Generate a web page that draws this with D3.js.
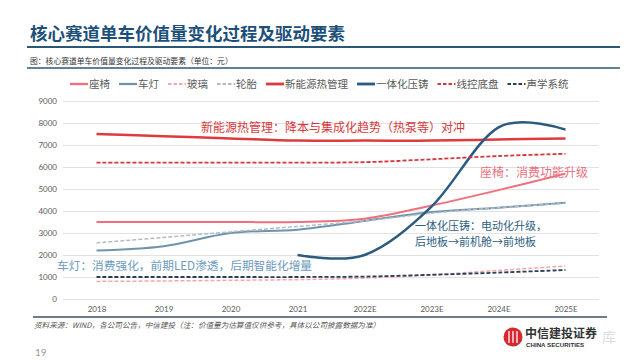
<!DOCTYPE html>
<html><head><meta charset="utf-8">
<script src="https://cdn.jsdelivr.net/npm/d3@7/dist/d3.min.js"></script>
<style>
html,body{margin:0;padding:0;background:#fff;}
svg{display:block;font-family:"Noto Sans CJK SC","Noto Sans",sans-serif;}
</style></head><body>
<svg id="c" width="640" height="360"></svg>
<script>
const categories = ["2018","2019","2020","2021","2022E","2023E","2024E","2025E"];
const yTicks = [0,1000,2000,3000,4000,5000,6000,7000,8000,9000];
const seriesNames = ["座椅","车灯","玻璃","轮胎","新能源热管理","一体化压铸","线控底盘","声学系统"];
const seat     = [3500,3500,3500,3500,3650,4250,4950,5700];
const lamp     = [2200,2400,3000,3150,3550,3950,4150,4380];
const glass    = [800,820,850,880,950,1100,1300,1500];
const tire     = [2550,2800,3050,3300,3550,3900,4150,4350];
const thermal  = [7500,7400,7300,7200,7200,7200,7250,7300];
const casting  = [null,null,null,2000,2000,4200,7800,7700];
const chassis  = [6200,6200,6200,6200,6220,6350,6500,6600];
const acoustic = [1000,1000,1000,1000,1020,1100,1200,1320];

const styles = [
  {data:seat,     color:"#ef6f7d", w:2,   dash:null},
  {data:lamp,     color:"#6f93ad", w:2,   dash:null},
  {data:glass,    color:"#f3a7ae", w:1.5, dash:"4,2"},
  {data:tire,     color:"#b3bcc5", w:1.5, dash:"4,2"},
  {data:thermal,  color:"#df3a3e", w:2.5, dash:null},
  {data:casting,  color:"#2b5b7e", w:2.5, dash:null},
  {data:chassis,  color:"#d8363e", w:1.8, dash:"4,2"},
  {data:acoustic, color:"#2c3d55", w:1.8, dash:"4,2"}
];

const svg = d3.select("#c");
const x = d3.scalePoint().domain(categories).range([63,599]).padding(0.5);
const y = d3.scaleLinear().domain([0,9000]).range([299,101]);

// Title
svg.append("text").attr("x",30).attr("y",40).attr("font-size",17.5).attr("font-weight",700)
  .attr("fill","#1d4f7b").text("核心赛道单车价值量变化过程及驱动要素");
svg.append("line").attr("x1",27).attr("x2",620).attr("y1",47).attr("y2",47)
  .attr("stroke","#2b5777").attr("stroke-width",2.2);
svg.append("text").attr("x",30).attr("y",64).attr("font-size",7.8).attr("fill","#333")
  .text("图：核心赛道单车价值量变化过程及驱动要素（单位：元）");
svg.append("line").attr("x1",27).attr("x2",620).attr("y1",68).attr("y2",68)
  .attr("stroke","#2b5777").attr("stroke-width",1.3);

// Gridlines
svg.append("g").selectAll("line").data(yTicks).join("line")
  .attr("x1",63).attr("x2",599).attr("y1",d=>y(d)+0.5).attr("y2",d=>y(d)+0.5)
  .attr("stroke","#e2e2e2").attr("stroke-width",1);

// Axes
const ya = svg.append("g").attr("transform","translate(57,0)")
  .call(d3.axisLeft(y).tickValues(yTicks).tickSize(0).tickPadding(0).tickFormat(d3.format("d")));
ya.select(".domain").remove();
ya.selectAll("text").attr("font-size",8).attr("fill","#595959").attr("font-family","Lato, 'Noto Sans', sans-serif");
const xa = svg.append("g").attr("transform","translate(0,306)")
  .call(d3.axisBottom(x).tickSize(0).tickPadding(0));
xa.select(".domain").remove();
xa.selectAll("text").attr("font-size",8).attr("fill","#595959").attr("dy","0.71em").attr("font-family","Lato, 'Noto Sans', sans-serif");

// Lines
styles.forEach(s=>{
  const pts = categories.map((c,i)=>[c,s.data[i]]).filter(p=>p[1]!==null);
  const gen = d3.line().x(p=>x(p[0])).y(p=>y(p[1])).curve(d3.curveCardinal.tension(0));
  svg.append("path").datum(pts).attr("d",gen).attr("fill","none")
    .attr("stroke",s.color).attr("stroke-width",s.w)
    .attr("stroke-dasharray",s.dash);
});

// Legend
let lx = 70;
const ly = 84;
seriesNames.forEach((n,i)=>{
  const s = styles[i];
  svg.append("line").attr("x1",lx).attr("x2",lx+18).attr("y1",ly).attr("y2",ly)
    .attr("stroke",s.color).attr("stroke-width",s.w+0.3).attr("stroke-dasharray",s.dash?"3.5,2":null);
  const t = svg.append("text").attr("x",lx+19).attr("y",ly+3.8).attr("font-size",10.5)
    .attr("fill","#595959").text(n);
  lx += 19 + t.node().getComputedTextLength() + 9;
});

// Annotations
const ann = (tx,ax,ay,col)=>svg.append("text").attr("x",ax).attr("y",ay).attr("font-size",12)
  .attr("fill",col).text(tx);
ann("新能源热管理：降本与集成化趋势（热泵等）对冲",201,132,"#d8383b");
ann("座椅：消费功能升级",480,177,"#ec6f7d");
ann("一体化压铸：电动化升级，",415,230,"#2e5e80").attr("font-size",11);
ann("后地板→前机舱→前地板",415,246,"#2e5e80").attr("font-size",11);
ann("车灯：消费强化，前期LED渗透，后期智能化增量",57,270,"#6c9abd").attr("font-size",11.7);

// Bottom rule and source
svg.append("line").attr("x1",33).attr("x2",607).attr("y1",317).attr("y2",317)
  .attr("stroke","#3e5068").attr("stroke-width",1.5);
svg.append("text").attr("x",34).attr("y",328).attr("font-size",7.6).attr("font-style","italic")
  .attr("fill","#555").text("资料来源：WIND，各公司公告，中信建投（注：价值量为估算值仅供参考，具体以公司披露数据为准）");
svg.append("text").attr("x",35).attr("y",356).attr("font-size",10).attr("fill","#999")
  .attr("font-family","Lato, sans-serif").text("19");

// Logo
svg.append("circle").attr("cx",513).attr("cy",337).attr("r",9.5).attr("fill","#d9272e");
[-4,0,4].forEach(dx=>svg.append("line").attr("x1",513+dx).attr("x2",513+dx).attr("y1",331).attr("y2",343)
  .attr("stroke","#fff").attr("stroke-width",1.3));
svg.append("text").attr("x",525).attr("y",338).attr("font-size",12).attr("font-weight",700)
  .attr("fill","#333").text("中信建投证券");
svg.append("text").attr("x",526).attr("y",347).attr("font-size",6.2).attr("font-weight",700)
  .attr("fill","#333").attr("font-family","'Liberation Sans', sans-serif").text("CHINA SECURITIES");
svg.append("text").attr("x",602).attr("y",342).attr("font-size",14).attr("fill","#ddd").text("库");
</script>
</body></html>
